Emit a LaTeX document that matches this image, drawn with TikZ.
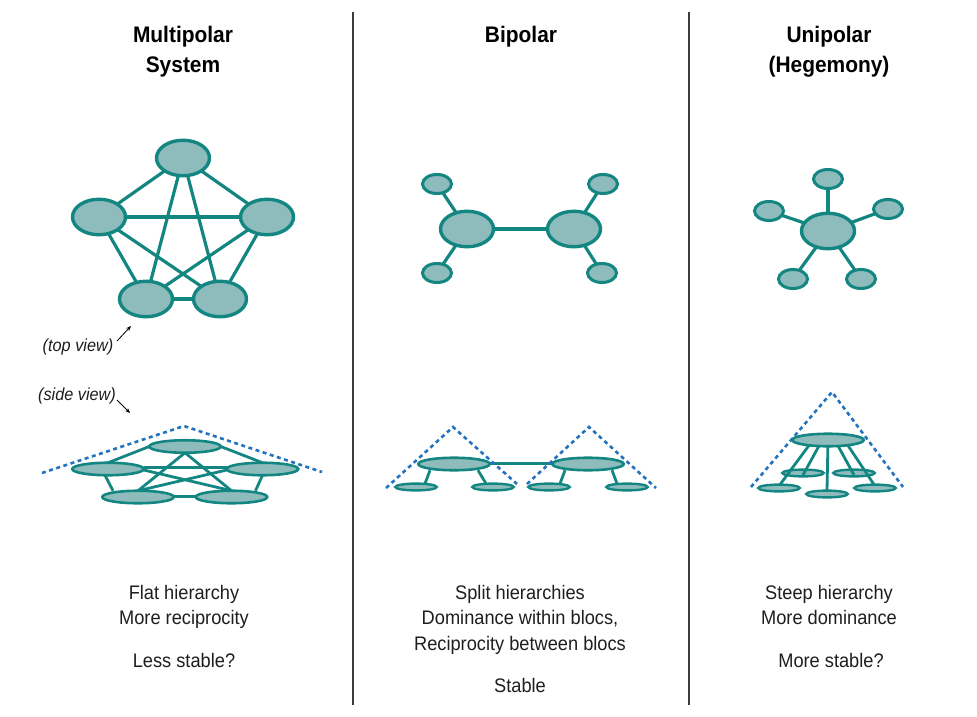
\documentclass[tikz,border=0pt]{standalone}
\usepackage{fontspec}
\setmainfont{Liberation Sans}[FakeStretch=0.93]
\usetikzlibrary{shapes.geometric,arrows.meta,calc}
\pgfdeclarelayer{bg}
\pgfdeclarelayer{fg}
\pgfsetlayers{bg,main,fg}
\definecolor{tealfill}{RGB}{142,187,188}
\definecolor{tealline}{RGB}{20,134,130}
\definecolor{dashblue}{RGB}{35,115,190}
\definecolor{txt}{RGB}{30,30,30}
\definecolor{divgray}{RGB}{60,60,60}
\tikzset{
  bigell/.style={ellipse, draw=tealline, fill=tealfill, line width=3.4pt, minimum width=53pt, minimum height=35.5pt, inner sep=0pt, outer sep=0pt},
  smallell/.style={ellipse, draw=tealline, fill=tealfill, line width=3pt, minimum width=29pt, minimum height=19pt, inner sep=0pt, outer sep=0pt},
  flatbig/.style={ellipse, draw=tealline, fill=tealfill, line width=2.6pt, minimum width=71.5pt, minimum height=12.5pt, inner sep=0pt, outer sep=0pt},
  flatsmall/.style={ellipse, draw=tealline, fill=tealfill, line width=2.4pt, minimum width=41.5pt, minimum height=6.8pt, inner sep=0pt, outer sep=0pt},
  edge/.style={draw=tealline, line width=3.2pt},
  flatedge/.style={draw=tealline, line width=2.8pt},
  dashline/.style={draw=dashblue, line width=2.6pt, dash pattern=on 4pt off 3.5pt},
  divider/.style={draw=divgray, line width=1.3pt},
  body/.style={anchor=base, text=txt, inner sep=0pt, font=\fontsize{19.6}{24}\selectfont},
  title/.style={anchor=base, text=black, inner sep=0pt, font=\fontsize{22.5}{27}\selectfont\bfseries},
  viewlabel/.style={anchor=base, text=txt, inner sep=0pt, font=\fontsize{17.5}{21}\selectfont\itshape},
  pointer/.style={draw=black, line width=0.8pt, -{Stealth[length=5pt,width=4pt]}}
}
\begin{document}
\begin{tikzpicture}[x=1pt,y=-1pt]
\useasboundingbox (0,0) rectangle (977,717);
% dividers
\coordinate (v1a) at (353,12); \coordinate (v1b) at (353,705);
\coordinate (v2a) at (689,12); \coordinate (v2b) at (689,705);
\draw[divider] (v1a) -- (v1b);
\draw[divider] (v2a) -- (v2b);
% titles
\node[title] (t1a) at (183,43) {Multipolar};
\node[title] (t1b) at (183,73) {System};
\node[title] (t2) at (521,43) {Bipolar};
\node[title] (t3a) at (829,43) {Unipolar};
\node[title] (t3b) at (829,73) {(Hegemony)};
% ---------- Multipolar top view
\node[bigell] (mt) at (183,158) {};
\node[bigell] (ml) at (99,217) {};
\node[bigell] (mr) at (267,217) {};
\node[bigell] (mbl) at (146,299) {};
\node[bigell] (mbr) at (220,299) {};
\begin{pgfonlayer}{bg}
\foreach \a/\b in {mt/ml,mt/mr,mt/mbl,mt/mbr,ml/mr,ml/mbl,ml/mbr,mr/mbl,mr/mbr,mbl/mbr}
  \draw[edge] (\a) -- (\b);
\end{pgfonlayer}
% labels
\node[viewlabel] (tv) at (78,351) {(top view)};
\coordinate (tva) at (117,341); \coordinate (tvb) at (131,326);
\draw[pointer] (tva) -- (tvb);
\node[viewlabel] (sv) at (77,400) {(side view)};
\coordinate (sva) at (117,400); \coordinate (svb) at (130,413);
\draw[pointer] (sva) -- (svb);
% ---------- Multipolar side view
\node[flatbig] (st) at (185,446.5) {};
\node[flatbig] (sl) at (108,469) {};
\node[flatbig] (sr) at (262.5,469) {};
\node[flatbig] (sbl) at (138,497) {};
\node[flatbig] (sbr) at (231.5,497) {};
\begin{pgfonlayer}{bg}
\draw[flatedge] (st.west) -- (sl.north);
\draw[flatedge] (st.east) -- (sr.north);
\draw[flatedge] (st.south) -- (sbl.north);
\draw[flatedge] (st.south) -- (sbr.north);
\draw[flatedge] ($(sl.east)+(0,-1.5)$) -- ($(sr.west)+(0,-1.5)$);
\draw[flatedge] ($(sl.east)+(0,1)$) -- (sbr.north);
\draw[flatedge] ($(sr.west)+(0,1)$) -- (sbl.north);
\draw[flatedge] ($(sl.south)+(-3,0)$) -- ($(sbl.north)+(-25,0)$);
\draw[flatedge] ($(sr.south)+(0,0)$) -- ($(sbr.north)+(24,0)$);
\draw[flatedge] ($(sbl.east)+(0,-0.5)$) -- ($(sbr.west)+(0,-0.5)$);
\end{pgfonlayer}
\coordinate (d1) at (42,473); \coordinate (d2) at (184,426); \coordinate (d3) at (322,472);
\draw[dashline] (d1) -- (d2) -- (d3);
% ---------- Bipolar top view
\node[bigell] (bl) at (467,229) {};
\node[bigell] (br) at (574,229) {};
\node[smallell] (btl) at (437,184) {};
\node[smallell] (bbl) at (437,273) {};
\node[smallell] (btr) at (603,184) {};
\node[smallell] (bbr) at (602,273) {};
\begin{pgfonlayer}{bg}
\foreach \a/\b in {bl/br,bl/btl,bl/bbl,br/btr,br/bbr}
  \draw[edge] (\a) -- (\b);
\end{pgfonlayer}
% ---------- Bipolar side view
\node[flatbig] (pl) at (454,464) {};
\node[flatbig] (pr) at (588,464) {};
\node[flatsmall] (pl1) at (416,487) {};
\node[flatsmall] (pl2) at (493,487) {};
\node[flatsmall] (pr1) at (549,487) {};
\node[flatsmall] (pr2) at (627,487) {};
\begin{pgfonlayer}{bg}
\draw[flatedge] ($(pl.east)+(0,-0.5)$) -- ($(pr.west)+(0,-0.5)$);
\draw[flatedge] ($(pl.south)+(-24,0)$) -- ($(pl1.north)+(9,0)$);
\draw[flatedge] ($(pl.south)+(24,0)$) -- ($(pl2.north)+(-7,0)$);
\draw[flatedge] ($(pr.south)+(-23,0)$) -- ($(pr1.north)+(11,0)$);
\draw[flatedge] ($(pr.south)+(24,0)$) -- ($(pr2.north)+(-10,0)$);
\end{pgfonlayer}
\coordinate (e1) at (386,488); \coordinate (e2) at (453,427); \coordinate (e3) at (517,484);
\coordinate (f1) at (527,484); \coordinate (f2) at (589,427); \coordinate (f3) at (656,488);
\draw[dashline] (e1) -- (e2) -- (e3);
\draw[dashline] (f1) -- (f2) -- (f3);
% ---------- Unipolar top view
\node[bigell] (uc) at (828,231) {};
\node[smallell] (ut) at (828,179) {};
\node[smallell] (ul) at (769,211) {};
\node[smallell] (ur) at (888,209) {};
\node[smallell] (ubl) at (793,279) {};
\node[smallell] (ubr) at (861,279) {};
\begin{pgfonlayer}{bg}
\foreach \b in {ut,ul,ur,ubl,ubr}
  \draw[edge] (uc) -- (\b);
\end{pgfonlayer}
% ---------- Unipolar side view
\node[flatsmall] (uml) at (803,473) {};
\node[flatsmall] (umr) at (854,473) {};
\begin{pgfonlayer}{fg}
\node[flatsmall] (ub1) at (779,488) {};
\node[flatsmall] (ub2) at (827,494) {};
\node[flatsmall] (ub3) at (875,488) {};
\node[flatbig] (ust) at (828,440) {};
\end{pgfonlayer}
\draw[flatedge] ($(ust.center)+(-18,4)$) -- ($(ub1.north)+(1,0)$);
\draw[flatedge] ($(ust.center)+(-8,4)$) -- ($(uml.center)+(0,2)$);
\draw[flatedge] (ust.center) -- (ub2.north);
\draw[flatedge] ($(ust.center)+(9,4)$) -- ($(umr.center)+(0,2)$);
\draw[flatedge] ($(ust.center)+(19,4)$) -- ($(ub3.north)+(-1,0)$);
\coordinate (g1) at (751,487); \coordinate (g2) at (832,392); \coordinate (g3) at (903,487);
\draw[dashline] (g1) -- (g2) -- (g3);
% ---------- texts
\node[body] (c1a) at (184,599) {Flat hierarchy};
\node[body] (c1b) at (184,624) {More reciprocity};
\node[body] (c1c) at (184,667) {Less stable?};
\node[body] (c2a) at (520,599) {Split hierarchies};
\node[body] (c2b) at (520,624) {Dominance within blocs,};
\node[body] (c2c) at (520,650) {Reciprocity between blocs};
\node[body] (c2d) at (520,692) {Stable};
\node[body] (c3a) at (829,599) {Steep hierarchy};
\node[body] (c3b) at (829,624) {More dominance};
\node[body] (c3c) at (831,667) {More stable?};
\end{tikzpicture}
\end{document}
